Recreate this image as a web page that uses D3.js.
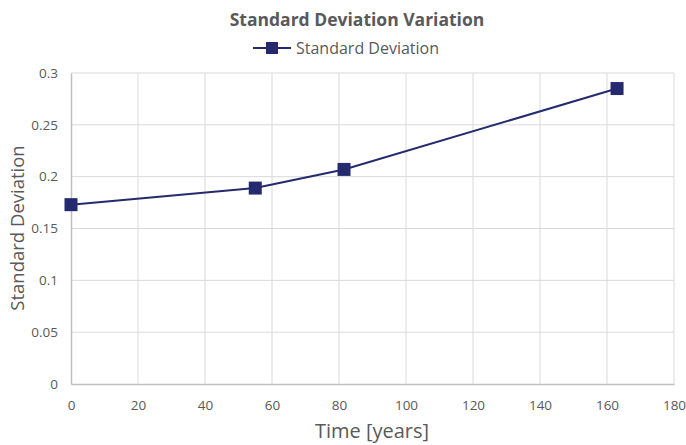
<!DOCTYPE html>
<html><head><meta charset="utf-8">
<script src="https://cdn.jsdelivr.net/npm/d3@7"></script>
<style>body{margin:0;background:#fff}svg{display:block;font-family:"Open Sans",sans-serif}</style>
</head><body>
<script>
const timeYears = [0, 55, 81.5, 163];
const stdDev = [0.173, 0.189, 0.207, 0.285];
const xTicks = [0,20,40,60,80,100,120,140,160,180];
const yTicks = [0,0.05,0.1,0.15,0.2,0.25,0.3];
const yTickLabels = ["0","0.05","0.1","0.15","0.2","0.25","0.3"];
const seriesName = "Standard Deviation";

const W=686,H=445;
const svg=d3.select("body").append("svg").attr("width",W).attr("height",H);
const x=d3.scaleLinear().domain([0,180]).range([71,674]);
const y=d3.scaleLinear().domain([0,0.3]).range([384,73]);
const grid="#d9d9d9", txt="#595959", col="#252A6E";

svg.append("g").selectAll("line").data(xTicks.slice(1)).join("line")
 .attr("x1",d=>x(d)).attr("x2",d=>x(d)).attr("y1",y(0)).attr("y2",y(0.3)).attr("stroke",grid);
svg.append("g").selectAll("line").data(yTicks.slice(1)).join("line")
 .attr("x1",x(0)).attr("x2",x(180)).attr("y1",d=>y(d)).attr("y2",d=>y(d)).attr("stroke",grid);

const xa=svg.append("g").attr("transform",`translate(0,${y(0)})`)
 .call(d3.axisBottom(x).tickValues(xTicks).tickSize(0).tickPadding(16).tickFormat(d3.format("d")));
xa.select(".domain").attr("stroke","#bfbfbf").attr("stroke-width",1.5);
xa.selectAll("text").attr("fill",txt).attr("font-size",13.5).attr("font-family","Open Sans");
const ya=svg.append("g").attr("transform",`translate(${x(0)},0)`)
 .call(d3.axisLeft(y).tickValues(yTicks).tickSize(0).tickPadding(13).tickFormat((d,i)=>yTickLabels[i]));
ya.select(".domain").attr("stroke","#bfbfbf").attr("stroke-width",1.5);
ya.selectAll("text").attr("fill",txt).attr("font-size",13.5).attr("font-family","Open Sans");

const pts=timeYears.map((t,i)=>[t,stdDev[i]]);
svg.append("path").datum(pts).attr("fill","none").attr("stroke",col).attr("stroke-width",2)
 .attr("d",d3.line().x(d=>x(d[0])).y(d=>y(d[1])));
svg.append("g").selectAll("rect").data(pts).join("rect")
 .attr("x",d=>x(d[0])-6.5).attr("y",d=>y(d[1])-6.5).attr("width",13).attr("height",13).attr("fill",col);

svg.append("text").attr("x",357).attr("y",26).attr("text-anchor","middle").attr("font-size",17.5)
 .attr("font-weight","bold").attr("fill",txt).text("Standard Deviation Variation");
svg.append("line").attr("x1",253).attr("x2",291).attr("y1",48).attr("y2",48).attr("stroke",col).attr("stroke-width",2);
svg.append("rect").attr("x",266).attr("y",42).attr("width",12).attr("height",12).attr("fill",col);
svg.append("text").attr("x",296).attr("y",54).attr("font-size",16).attr("fill",txt).text(seriesName);

svg.append("text").attr("x",372).attr("y",438).attr("text-anchor","middle").attr("font-size",20).attr("fill",txt).text("Time [years]");
svg.append("text").attr("transform","translate(24,228) rotate(-90)").attr("text-anchor","middle").attr("font-size",18.5).attr("fill",txt).text("Standard Deviation");
</script>
</body></html>
